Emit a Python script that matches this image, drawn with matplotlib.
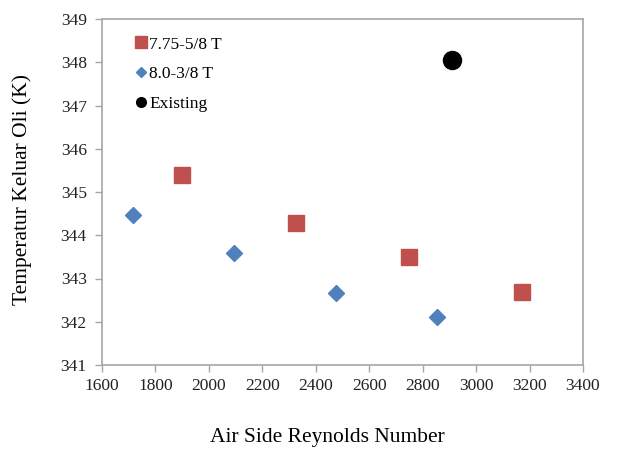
import matplotlib
matplotlib.use('Agg')
import matplotlib.pyplot as plt
from matplotlib.lines import Line2D

# data
re_775 = [1900, 2325, 2749, 3171]
t_775 = [345.39, 344.28, 343.49, 342.69]

re_80 = [1715, 2094, 2476, 2854]
t_80 = [344.46, 343.60, 342.66, 342.11]

re_exist = [2909]
t_exist = [348.05]

labels = ['7.75-5/8 T', '8.0-3/8 T', 'Existing']
red = '#C0504D'
blue = '#4F81BD'

plt.rcParams['font.family'] = ['Liberation Serif', 'DejaVu Serif']

fig = plt.figure(figsize=(6.19, 4.5), dpi=100)
ax = fig.add_axes([102/619, 85/450, 481/619, 346/450])

ax.plot(re_775, t_775, ls='none', marker='s', ms=11.5, color=red, mec=red)
ax.plot(re_80, t_80, ls='none', marker='D', ms=8, color=blue, mec=blue)
ax.plot(re_exist, t_exist, ls='none', marker='o', ms=13, color='black')

ax.set_xlim(1600, 3400)
ax.set_ylim(341, 349)
ax.set_xticks(range(1600, 3401, 200))
ax.set_yticks(range(341, 350))

for s in ax.spines.values():
    s.set_color('#a6a6a6')
    s.set_linewidth(1.2)
ax.tick_params(direction='out', length=5, width=1, color='#a6a6a6',
               labelsize=12.5, labelcolor='#222222')
ax.tick_params(axis='y', pad=6)
ax.tick_params(axis='x', pad=4)

ax.set_xlabel('Air Side Reynolds Number', fontsize=15.5, va='center')
ax.xaxis.set_label_coords(0.468, -0.21)
ax.set_ylabel('Temperatur Keluar Oli (K)', fontsize=15.5, va='center')
ax.yaxis.set_label_coords(-0.166, 0.506)

handles = [
    Line2D([], [], ls='none', marker='s', ms=8, color=red),
    Line2D([], [], ls='none', marker='D', ms=5.5, color=blue),
    Line2D([], [], ls='none', marker='o', ms=7, color='black'),
]
ax.legend(handles, labels, loc='upper left', frameon=False, fontsize=12.5,
          handlelength=0.6, handletextpad=0.2, labelspacing=0.78,
          bbox_to_anchor=(0.037, 0.995))

fig.savefig('out.png', dpi=100)
